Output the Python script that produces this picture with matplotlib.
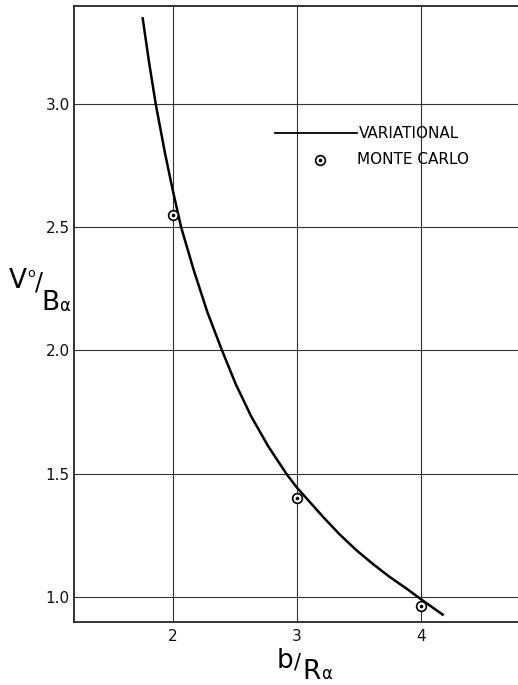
import matplotlib
matplotlib.use("Agg")
import matplotlib.pyplot as plt

# variational curve
var_x = [1.758, 1.809, 1.863, 1.938, 2.0, 2.068, 2.169, 2.28, 2.398, 2.51, 2.633,
         2.77, 2.917, 3.0, 3.107, 3.215, 3.349, 3.484, 3.618, 3.752, 3.887, 3.995, 4.177]
var_y = [3.347, 3.17, 3.0, 2.80, 2.651, 2.5, 2.327, 2.155, 2.0, 1.862, 1.733,
         1.612, 1.5, 1.445, 1.385, 1.324, 1.253, 1.189, 1.133, 1.081, 1.034, 0.994, 0.929]

# Monte Carlo points
mc_x = [2, 3, 4]
mc_y = [2.55, 1.40, 0.962]

x_ticks = [2, 3, 4]
y_ticks = [1.0, 1.5, 2.0, 2.5, 3.0]

W, H = 518, 685
fig = plt.figure(figsize=(W / 100, H / 100), dpi=100)
ax = fig.add_axes([74 / W, 1 - 622 / H, 1 - 74 / W, (622 - 6) / H])

ax.set_xlim(1.204, 4.785)
ax.set_ylim(0.899, 3.397)

ax.set_xticks(x_ticks)
ax.set_xticklabels([str(t) for t in x_ticks])
ax.set_yticks(y_ticks)
ax.set_yticklabels([f"{t:.1f}" for t in y_ticks])
ax.tick_params(length=0, labelsize=11, pad=5, colors="#111111")
ax.tick_params(axis="y", pad=3)
ax.grid(True, color="#333333", linewidth=0.8)
ax.set_axisbelow(True)

for side in ["left", "bottom", "top"]:
    ax.spines[side].set_linewidth(1.3)
    ax.spines[side].set_color("#222222")
ax.spines["right"].set_visible(False)

ax.plot(var_x, var_y, color="black", linewidth=1.8, solid_joinstyle="round", zorder=3)
ax.plot(mc_x, mc_y, linestyle="none", marker="o", markersize=7,
        markerfacecolor="white", markeredgecolor="black", markeredgewidth=1.2, zorder=4)
ax.plot(mc_x, mc_y, linestyle="none", marker="o", markersize=1.6,
        color="black", zorder=5)

# legend drawn by hand
def px(x, y):
    return x / W, 1 - y / H

lx0, ly0 = px(275, 133)
lx1, _ = px(357, 133)
fig.add_artist(plt.Line2D([lx0, lx1], [ly0, ly0], color="black", linewidth=1.3))
fig.text(*px(359, 133), "VARIATIONAL", fontsize=11, va="center", ha="left")
mx, my = px(320, 160)
fig.add_artist(plt.Line2D([mx], [my], marker="o", markersize=7, markerfacecolor="white",
                          markeredgecolor="black", markeredgewidth=1.2))
fig.add_artist(plt.Line2D([mx], [my], marker="o", markersize=1.6, color="black"))
fig.text(*px(357, 160), "MONTE CARLO", fontsize=11, va="center", ha="left")

# y label  V0 / B alpha
fig.text(*px(9, 288), "V", fontsize=19, ha="left", va="baseline")
fig.text(*px(27, 277), "o", fontsize=9, ha="left", va="baseline")
fig.text(*px(35, 290), "/", fontsize=17, ha="left", va="baseline")
fig.text(*px(41, 310), "B", fontsize=19, ha="left", va="baseline")
fig.text(*px(59, 311), "α", fontsize=12, ha="left", va="baseline")

# x label  b / R alpha
fig.text(*px(277, 668), "b", fontsize=19, ha="left", va="baseline")
fig.text(*px(294, 668), "/", fontsize=15, ha="left", va="baseline")
fig.text(*px(302, 679), "R", fontsize=19, ha="left", va="baseline")
fig.text(*px(321, 679), "α", fontsize=12, ha="left", va="baseline")

fig.savefig("out.png", dpi=100)
